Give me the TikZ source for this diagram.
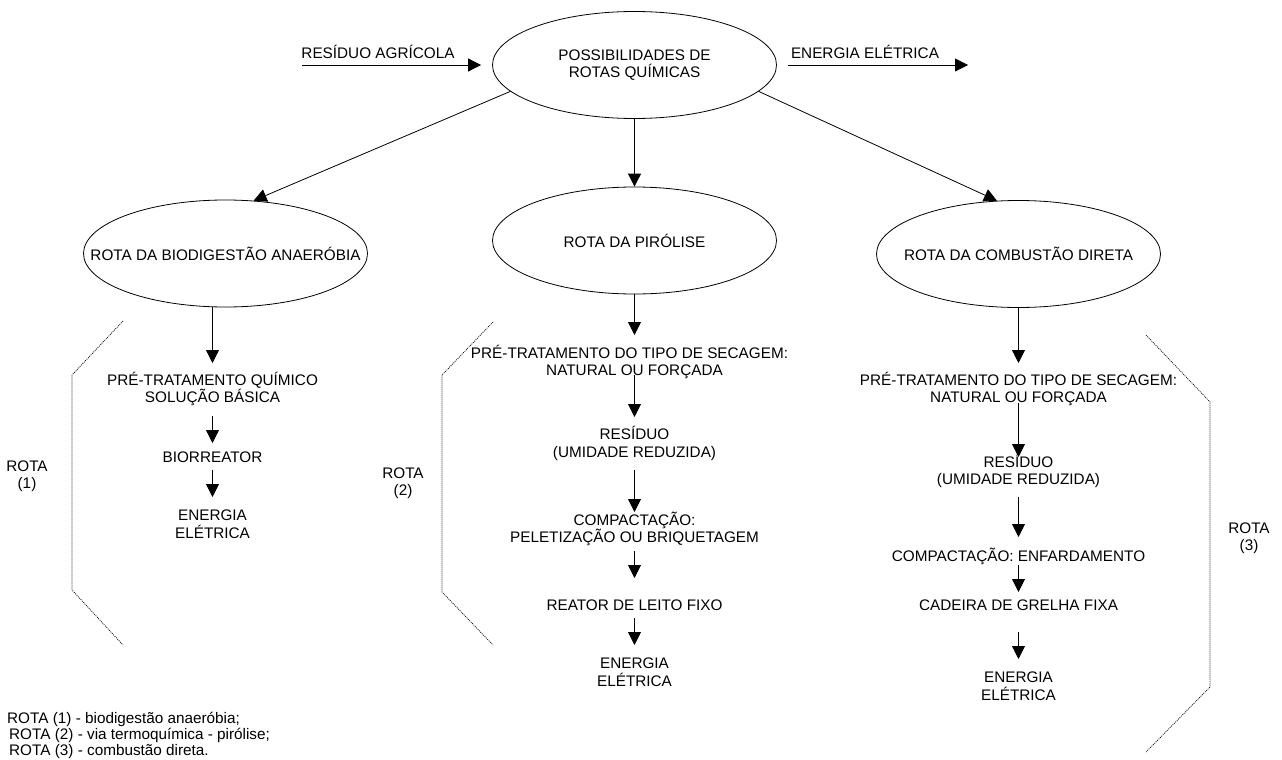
\documentclass[tikz,border=0pt]{standalone}
\usepackage{fontspec}
\setmainfont{Liberation Sans}
\usetikzlibrary{arrows.meta,shapes.geometric}
\newcommand{\zb}[1]{\makebox[0pt]{#1}}
\tikzset{
  lbl/.style={font=\fontsize{15.3}{17.5}\selectfont, align=center, inner sep=0pt},
  oval/.style={draw, line width=0.8pt, ellipse, minimum width=284pt, minimum height=107pt, inner sep=0pt, font=\fontsize{15.3}{17.5}\selectfont, align=center},
  arr/.style={line width=0.8pt, -{Triangle[width=13pt,length=13pt]}},
  brk/.style={line width=0.7pt, dash pattern=on 1pt off 1pt, black},
}
\begin{document}
\begin{tikzpicture}[x=1pt,y=-1pt]
\useasboundingbox (0,0) rectangle (1282,760);
% top
\node[oval] (e0) at (634.5,65) {\zb{POSSIBILIDADES DE}\\\zb{ROTAS QUÍMICAS}};
\node[lbl] (in1) at (378,52) {RESÍDUO AGRÍCOLA};
\node[lbl] (out1) at (865,52) {ENERGIA ELÉTRICA};
\coordinate (inA) at (302,65);
\coordinate (outB) at (968,65);
\draw[arr, shorten >=11pt] (inA) -- (e0);
\draw[arr, shorten <=11pt] (e0) -- (outB);
% route ellipses
\node[oval] (e1) at (225.5,253.5) {\zb{ROTA DA BIODIGESTÃO ANAERÓBIA}};
\node[oval] (e2) at (634.5,240.5) {\zb{ROTA DA PIRÓLISE}};
\node[oval] (e3) at (1018.5,254) {\zb{ROTA DA COMBUSTÃO DIRETA}};
\draw[arr] (e0.192) -- (e1.62);
\draw[arr] (e0) -- (e2);
\draw[arr] (e0.348) -- (e3.112);
% left column
\node[lbl] (l1) at (212.5,389) {PRÉ-TRATAMENTO QUÍMICO\\SOLUÇÃO BÁSICA};
\node[lbl] (l2) at (212.5,457) {BIORREATOR};
\node[lbl] (l3) at (212.5,524) {ENERGIA\\ELÉTRICA};
\draw[arr] (e1.south -| l1) -- ([yshift=26]l1.center);
\draw[arr] ([yshift=-27]l1.center) -- ([yshift=14]l2.center);
\draw[arr] ([yshift=-13]l2.center) -- ([yshift=27]l3.center);
\draw[brk] (123,321) -- (72,375) -- (72,590) -- (123,645);
\node[lbl] (rt1) at (27,476) {ROTA\\(1)};
% middle column
\node[lbl] (m1) at (634.5,362) {PRÉ-TRATAMENTO DO TIPO DE SECAGEM:\hspace*{10pt}\\NATURAL OU FORÇADA};
\node[lbl] (m2) at (634.5,443.5) {RESÍDUO\\(UMIDADE REDUZIDA)};
\node[lbl] (m3) at (634.5,529) {COMPACTAÇÃO:\\PELETIZAÇÃO OU BRIQUETAGEM};
\node[lbl] (m4) at (634.5,605) {REATOR DE LEITO FIXO};
\node[lbl] (m5) at (634.5,672) {ENERGIA\\ELÉTRICA};
\draw[arr] (e2.south) -- ([yshift=27]m1.center);
\draw[arr] ([yshift=-13]m1.center) -- ([yshift=26.5]m2.center);
\draw[arr] ([yshift=-26.5]m2.center) -- ([yshift=17]m3.center);
\draw[arr] ([yshift=-22]m3.center) -- ([yshift=27]m4.center);
\draw[arr] ([yshift=-13]m4.center) -- ([yshift=27]m5.center);
\draw[brk] (493,322) -- (442,375) -- (442,592) -- (493,645);
\node[lbl] (rt2) at (403,483) {ROTA\\(2)};
% right column
\node[lbl] (r1) at (1018.5,389) {PRÉ-TRATAMENTO DO TIPO DE SECAGEM:\\NATURAL OU FORÇADA};
\node[lbl] (r2) at (1018.5,471) {RESÍDUO\\(UMIDADE REDUZIDA)};
\node[lbl] (r3) at (1018.5,556) {COMPACTAÇÃO: ENFARDAMENTO};
\node[lbl] (r4) at (1018.5,605) {CADEIRA DE GRELHA FIXA};
\node[lbl] (r5) at (1018.5,686) {ENERGIA\\ELÉTRICA};
\draw[arr] (e3.south) -- ([yshift=26]r1.center);
\draw[arr] ([yshift=-14]r1.center) -- ([yshift=14]r2.center);
\draw[arr] ([yshift=-26]r2.center) -- ([yshift=19]r3.center);
\draw[arr] ([yshift=-9]r3.center) -- ([yshift=13]r4.center);
\draw[arr] ([yshift=-27]r4.center) -- ([yshift=27]r5.center);
\draw[brk] (1146,335) -- (1210,402) -- (1210,687) -- (1146,752);
\node[lbl] (rt3) at (1249,538) {ROTA\\(3)};
% legend
\node[lbl, align=left, anchor=west, font=\fontsize{15.3}{16}\selectfont] (leg) at (7,735)
  {ROTA (1) - biodigestão anaeróbia;\\\hspace*{2pt}ROTA (2) - via termoquímica - pirólise;\\\hspace*{2pt}ROTA (3) - combustão direta.};
\end{tikzpicture}
\end{document}
